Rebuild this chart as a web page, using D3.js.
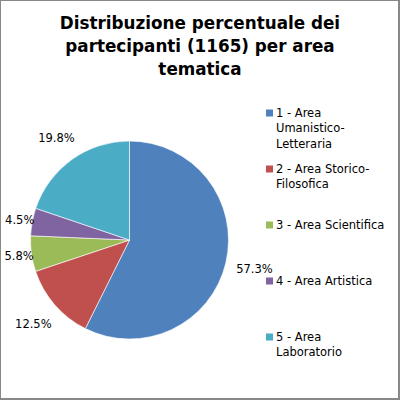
<!DOCTYPE html>
<html>
<head>
<meta charset="utf-8">
<script src="https://cdn.jsdelivr.net/npm/d3@7"></script>
<style>
  html, body { margin: 0; padding: 0; background: #fff; }
  svg { display: block; }
</style>
</head>
<body>
<div id="chart"></div>
<script>
"use strict";

// data
var categories = ["1 - Area Umanistico-Letteraria", "2 - Area Storico-Filosofica",
                  "3 - Area Scientifica", "4 - Area Artistica", "5 - Area Laboratorio"];
var legendLines = [["1 - Area", "Umanistico-", "Letteraria"],
                   ["2 - Area Storico-", "Filosofica"],
                   ["3 - Area Scientifica"],
                   ["4 - Area Artistica"],
                   ["5 - Area", "Laboratorio"]];
var percents = [57.3, 12.5, 5.8, 4.5, 19.8];
var colors = ["#4F81BD", "#C0504D", "#9BBB59", "#8064A2", "#4BACC6"];
var titleLines = ["Distribuzione percentuale dei", "partecipanti (1165) per area", "tematica"];

var width = 400, height = 400;
var cx = 129.5, cy = 240, radius = 99;

var svg = d3.select("#chart").append("svg")
    .attr("width", width)
    .attr("height", height);

// frame
svg.append("rect").attr("width", width).attr("height", height).attr("fill", "#888888");
svg.append("rect").attr("x", 1).attr("y", 1)
    .attr("width", width - 3).attr("height", height - 3).attr("fill", "#ffffff");

// title
svg.append("g").selectAll("text")
    .data(titleLines)
  .enter().append("text")
    .attr("x", 200)
    .attr("y", function(d, i) { return 29 + i * 23; })
    .attr("text-anchor", "middle")
    .style("font-family", "'DejaVu Sans', Verdana, sans-serif")
    .style("font-weight", "bold")
    .style("font-size", "16.8px")
    .attr("fill", "#000")
    .text(function(d) { return d; });

var color = d3.scaleOrdinal().domain(categories).range(colors);

var pie = d3.pie().sort(null).value(function(d) { return d.value; });
var arc = d3.arc().innerRadius(0).outerRadius(radius);

var slices = pie(categories.map(function(c, i) { return {cat: c, value: percents[i]}; }));

var g = svg.append("g")
    .attr("transform", "translate(" + cx + "," + cy + ")");

g.selectAll("path")
    .data(slices)
  .enter().append("path")
    .attr("d", arc)
    .attr("fill", function(d) { return color(d.data.cat); })
    .attr("stroke", "#ffffff")
    .attr("stroke-width", 0.6);

// labels, best-fit-ish: put the box just outside the rim along the mid angle
var fmt = function(v) { return v.toFixed(1) + "%"; };
var labelFont = 11.5;

var labels = g.selectAll("text.lbl")
    .data(slices)
  .enter().append("text")
    .attr("class", "lbl")
    .attr("text-anchor", "middle")
    .attr("dy", "0.35em")
    .style("font-family", "'DejaVu Sans', Verdana, sans-serif")
    .style("font-size", labelFont + "px")
    .attr("fill", "#000")
    .text(function(d) { return fmt(d.data.value); });

labels.each(function(d) {
    var bb = this.getBBox();
    var a = (d.startAngle + d.endAngle) / 2;
    var dx = Math.sin(a), dy = -Math.cos(a);
    var share = (d.endAngle - d.startAngle) / (2 * Math.PI);
    var R = radius + (share > 0.1 ? 10 : -3);
    var support = Math.abs(dx) * bb.width / 2 + Math.abs(dy) * bb.height / 2;
    d3.select(this)
        .attr("x", dx * (R + support))
        .attr("y", dy * (R + support));
});

// legend
var ly = d3.scalePoint().domain(categories).range([113, 337]);

var legend = svg.append("g").selectAll("g")
    .data(categories)
  .enter().append("g")
    .attr("transform", function(d) { return "translate(266," + ly(d) + ")"; });

legend.append("rect")
    .attr("x", 0).attr("y", -3.5)
    .attr("width", 7).attr("height", 7)
    .attr("fill", function(d) { return color(d); });

legend.append("text")
    .style("font-family", "'DejaVu Sans', Verdana, sans-serif")
    .style("font-size", "11.5px")
    .attr("fill", "#000")
    .selectAll("tspan")
    .data(function(d, i) { return legendLines[i]; })
  .enter().append("tspan")
    .attr("x", 10)
    .attr("y", function(d, i) { return 4 + i * 15.3; })
    .text(function(d) { return d; });
</script>
</body>
</html>
